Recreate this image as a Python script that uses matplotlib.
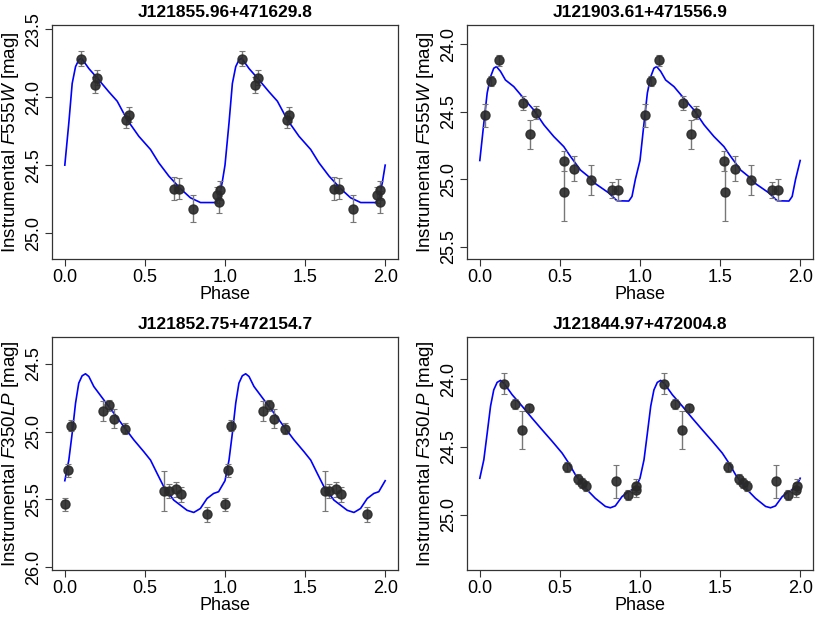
import numpy as np
import matplotlib
matplotlib.use("Agg")
import matplotlib.pyplot as plt

plt.rcParams['font.family'] = ['Liberation Sans', 'DejaVu Sans']
plt.rcParams['mathtext.fontset'] = 'custom'
plt.rcParams['mathtext.it'] = 'Liberation Sans:italic'
plt.rcParams['mathtext.rm'] = 'Liberation Sans'

# ---- star 1: J121855.96+471629.8 (F555W)
ph1 = [0.104, 0.187, 0.204, 0.385, 0.401, 0.680, 0.711, 0.800, 0.952, 0.965, 0.969]
mag1 = [23.717, 23.912, 23.859, 24.170, 24.130, 24.673, 24.673, 24.820, 24.720, 24.770, 24.685]
err1 = [0.055, 0.060, 0.055, 0.055, 0.055, 0.085, 0.075, 0.100, 0.060, 0.080, 0.070]
cph1 = [0.0, 0.025, 0.046, 0.067, 0.087, 0.104, 0.15, 0.212, 0.274, 0.327, 0.389, 0.462,
        0.535, 0.586, 0.649, 0.722, 0.784, 0.847, 0.94, 0.96, 0.982]
cmag1 = [24.50, 24.19, 23.90, 23.776, 23.727, 23.714, 23.79, 23.873, 23.96, 24.03, 24.166, 24.288,
         24.385, 24.482, 24.58, 24.673, 24.74, 24.775, 24.775, 24.75, 24.63]

# ---- star 2: J121903.61+471556.9 (F555W)
ph2 = [0.033, 0.067, 0.121, 0.270, 0.316, 0.351, 0.524, 0.528, 0.590, 0.696, 0.825, 0.863]
mag2 = [24.525, 24.268, 24.118, 24.434, 24.667, 24.505, 24.862, 25.096, 24.921, 25.002, 25.076, 25.076]
err2 = [0.086, 0.037, 0.040, 0.050, 0.110, 0.045, 0.075, 0.210, 0.093, 0.110, 0.060, 0.080]
cph2 = [0.0, 0.025, 0.046, 0.067, 0.087, 0.104, 0.129, 0.16, 0.212, 0.274, 0.337, 0.40, 0.462,
        0.524, 0.566, 0.628, 0.69, 0.72, 0.805, 0.857, 0.93, 0.95, 0.971]
cmag2 = [24.86, 24.584, 24.36, 24.24, 24.177, 24.165, 24.2, 24.264, 24.313, 24.40, 24.486, 24.596,
         24.683, 24.757, 24.83, 24.93, 24.99, 25.03, 25.10, 25.158, 25.16, 25.126, 25.0]

# ---- star 3: J121852.75+472154.7 (F350LP)
ph3 = [0.0, 0.019, 0.040, 0.237, 0.277, 0.304, 0.374, 0.622, 0.651, 0.692, 0.723, 0.886]
mag3 = [25.537, 25.286, 24.958, 24.847, 24.805, 24.904, 24.980, 25.436, 25.436, 25.424, 25.463, 25.608]
err3 = [0.050, 0.047, 0.040, 0.076, 0.040, 0.070, 0.040, 0.148, 0.050, 0.055, 0.056, 0.055]
cph3 = [0.0, 0.025, 0.046, 0.067, 0.087, 0.108, 0.129, 0.15, 0.181, 0.243, 0.306, 0.368, 0.43,
        0.493, 0.535, 0.576, 0.618, 0.68, 0.763, 0.805, 0.846, 0.888, 0.929, 0.96]
cmag3 = [25.362, 25.21, 25.012, 24.79, 24.643, 24.589, 24.574, 24.594, 24.668, 24.766, 24.864,
         24.963, 25.06, 25.148, 25.21, 25.308, 25.407, 25.505, 25.58, 25.596, 25.567, 25.493,
         25.456, 25.443]

# ---- star 4: J121844.97+472004.8 (F350LP)
ph4 = [0.150, 0.220, 0.264, 0.306, 0.547, 0.615, 0.640, 0.665, 0.852, 0.927, 0.973, 0.977]
mag4 = [24.034, 24.187, 24.379, 24.214, 24.650, 24.739, 24.768, 24.788, 24.756, 24.857, 24.818, 24.786]
err4 = [0.080, 0.037, 0.140, 0.030, 0.037, 0.035, 0.035, 0.035, 0.123, 0.035, 0.050, 0.050]
cph4 = [0.0, 0.025, 0.046, 0.067, 0.087, 0.108, 0.129, 0.15, 0.202, 0.264, 0.327, 0.389, 0.452,
        0.514, 0.555, 0.597, 0.66, 0.721, 0.784, 0.815, 0.846, 0.888, 0.929, 0.971]
cmag4 = [24.732, 24.596, 24.40, 24.20, 24.08, 24.025, 24.01, 24.03, 24.116, 24.20, 24.29, 24.375,
         24.46, 24.547, 24.62, 24.707, 24.806, 24.88, 24.94, 24.95, 24.936, 24.867, 24.83, 24.805]

titles = ["J121855.96+471629.8", "J121903.61+471556.9", "J121852.75+472154.7", "J121844.97+472004.8"]
ylabels = [r"Instrumental $F555W$ [mag]", r"Instrumental $F555W$ [mag]",
           r"Instrumental $F350LP$ [mag]", r"Instrumental $F350LP$ [mag]"]
ylims = [(25.19, 23.47), (25.589, 23.857), (26.02, 24.303), (25.409, 23.69)]
yticks = [[23.5, 24.0, 24.5, 25.0], [24.0, 24.5, 25.0, 25.5], [24.5, 25.0, 25.5, 26.0], [24.0, 24.5, 25.0]]

stars = [(ph1, mag1, err1, cph1, cmag1), (ph2, mag2, err2, cph2, cmag2),
         (ph3, mag3, err3, cph3, cmag3), (ph4, mag4, err4, cph4, cmag4)]

W, H = 830, 623
fig = plt.figure(figsize=(W / 100, H / 100), dpi=100)
boxes = [(52, 25, 398, 259), (467, 25, 813, 259), (52, 337, 398, 570), (467, 337, 813, 570)]

for i, (ph, mag, err, cph, cmag) in enumerate(stars):
    l, t, r, b = boxes[i]
    ax = fig.add_axes([l / W, 1 - b / H, (r - l) / W, (b - t) / H])
    ph = np.array(ph)
    cph = np.array(cph)
    x = np.concatenate([ph, ph + 1])
    y = np.concatenate([mag, mag])
    e = np.concatenate([err, err])
    # same light-curve model drawn over two cycles, closed at phase 2
    cx = np.concatenate([cph, cph + 1, [cph[0] + 2]])
    cy = np.concatenate([cmag, cmag, [cmag[0]]])
    ax.plot(cx, cy, color='blue', lw=1.2, zorder=2)
    ax.errorbar(x, y, yerr=e, fmt='none', ecolor='#777777', elinewidth=1.0,
                capsize=2, capthick=0.8, zorder=3)
    ax.plot(x, y, 'o', color='#2a2a2a', alpha=0.9, ms=6.5, mec='#2a2a2a', zorder=4)
    ax.set_xlim(-0.08, 2.08)
    ax.set_ylim(*ylims[i])
    ax.set_xticks([0.0, 0.5, 1.0, 1.5, 2.0])
    ax.set_xticklabels(["0.0", "0.5", "1.0", "1.5", "2.0"])
    ax.set_yticks(yticks[i])
    ax.set_yticklabels(["%.1f" % v for v in yticks[i]], rotation=90, va='center')
    ax.tick_params(direction='out', length=5, width=0.8, labelsize=13, color='#333333')
    ax.tick_params(axis='y', pad=2)
    ax.tick_params(axis='x', pad=2)
    for s in ax.spines.values():
        s.set_color('#333333')
        s.set_linewidth(0.9)
    ax.set_title(titles[i], fontsize=12.5, fontweight='bold', pad=6)
    ax.set_xlabel("Phase", fontsize=13, labelpad=0)
    ax.set_ylabel(ylabels[i], fontsize=13.5, labelpad=3)

fig.savefig("out.png", dpi=100)
